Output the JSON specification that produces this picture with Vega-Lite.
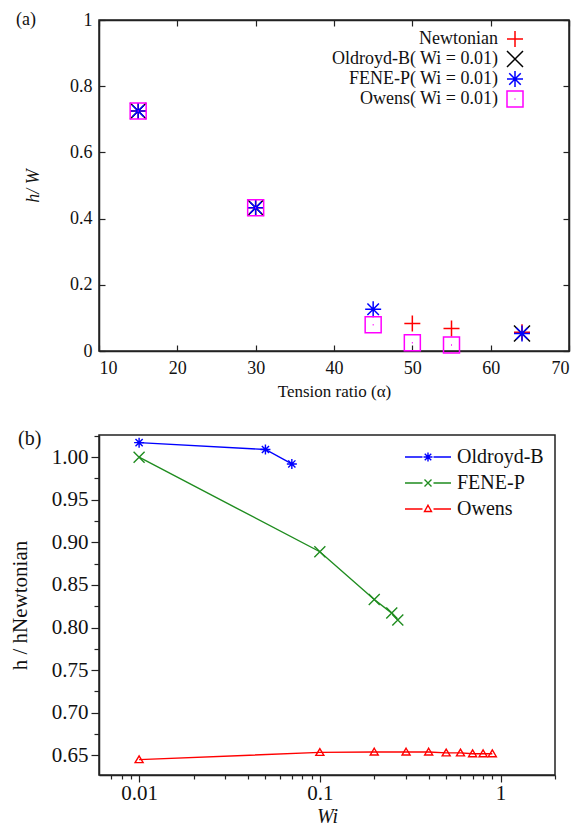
{
  "$schema": "https://vega.github.io/schema/vega-lite/v6.json",
  "padding": {"left": 8, "top": 10, "right": 4, "bottom": 2},
  "background": "white",
  "config": {
    "font": "Liberation Serif",
    "view": {"stroke": "#222", "strokeWidth": 1.5},
    "axis": {"grid": false, "domainColor": "#222", "tickColor": "#222", "labelColor": "#111", "titleColor": "#111", "domainWidth": 1.5, "tickWidth": 1.2, "labelFont": "Liberation Serif", "titleFont": "Liberation Serif", "titleFontWeight": "normal"},
    "legend": {"labelFont": "Liberation Serif", "labelColor": "#111"},
    "title": {"font": "Liberation Serif", "fontWeight": "normal", "color": "#111"},
    "concat": {"spacing": 28}
  },
  "resolve": {"scale": {"color": "independent", "shape": "independent"}, "legend": {"color": "independent", "shape": "independent"}},
  "datasets": {
    "a": [
      {"series": "Newtonian", "alpha": 15, "h": 0.725},
      {"series": "Newtonian", "alpha": 30, "h": 0.433},
      {"series": "Newtonian", "alpha": 50, "h": 0.083},
      {"series": "Newtonian", "alpha": 55, "h": 0.068},
      {"series": "Newtonian", "alpha": 64, "h": 0.057},
      {"series": "Oldroyd-B( Wi = 0.01)", "alpha": 15, "h": 0.725},
      {"series": "Oldroyd-B( Wi = 0.01)", "alpha": 30, "h": 0.433},
      {"series": "Oldroyd-B( Wi = 0.01)", "alpha": 64, "h": 0.053},
      {"series": "FENE-P( Wi = 0.01)", "alpha": 15, "h": 0.725},
      {"series": "FENE-P( Wi = 0.01)", "alpha": 30, "h": 0.433},
      {"series": "FENE-P( Wi = 0.01)", "alpha": 45, "h": 0.126},
      {"series": "FENE-P( Wi = 0.01)", "alpha": 64, "h": 0.053},
      {"series": "Owens( Wi = 0.01)", "alpha": 15, "h": 0.725},
      {"series": "Owens( Wi = 0.01)", "alpha": 30, "h": 0.433},
      {"series": "Owens( Wi = 0.01)", "alpha": 45, "h": 0.079},
      {"series": "Owens( Wi = 0.01)", "alpha": 50, "h": 0.025},
      {"series": "Owens( Wi = 0.01)", "alpha": 55, "h": 0.018}
    ],
    "b": [
      {"series": "Oldroyd-B", "wi": 0.01, "r": 1.017},
      {"series": "Oldroyd-B", "wi": 0.05, "r": 1.009},
      {"series": "Oldroyd-B", "wi": 0.07, "r": 0.992},
      {"series": "FENE-P", "wi": 0.01, "r": 1.0},
      {"series": "FENE-P", "wi": 0.1, "r": 0.889},
      {"series": "FENE-P", "wi": 0.2, "r": 0.833},
      {"series": "FENE-P", "wi": 0.25, "r": 0.817},
      {"series": "FENE-P", "wi": 0.27, "r": 0.809},
      {"series": "Owens", "wi": 0.01, "r": 0.645},
      {"series": "Owens", "wi": 0.1, "r": 0.6535},
      {"series": "Owens", "wi": 0.2, "r": 0.654},
      {"series": "Owens", "wi": 0.3, "r": 0.654},
      {"series": "Owens", "wi": 0.4, "r": 0.654},
      {"series": "Owens", "wi": 0.5, "r": 0.653},
      {"series": "Owens", "wi": 0.6, "r": 0.653},
      {"series": "Owens", "wi": 0.7, "r": 0.652},
      {"series": "Owens", "wi": 0.8, "r": 0.652},
      {"series": "Owens", "wi": 0.9, "r": 0.652}
    ]
  },
  "vconcat": [
    {
      "width": 470,
      "height": 331,
      "title": {"text": "(a)", "anchor": "start", "frame": "group", "dx": -83, "offset": -18, "fontSize": 18, "font": "Liberation Serif"},
      "data": {"name": "a"},
      "layer": [
        {
          "mark": {"type": "point", "filled": false, "strokeWidth": 1.5, "opacity": 1, "size": 256},
          "encoding": {
            "x": {"field": "alpha", "type": "quantitative", "scale": {"domain": [10, 70], "nice": false},
              "axis": {"orient": "bottom", "values": [10, 20, 30, 40, 50, 60, 70], "tickSize": -6, "labelPadding": 14, "labelFontSize": 18, "labelFont": "Liberation Serif", "title": "Tension ratio (α)", "titleFont": "Liberation Serif", "titleFontSize": 17, "titlePadding": 6}},
            "y": {"field": "h", "type": "quantitative", "scale": {"domain": [0, 1], "nice": false},
              "axis": {"orient": "left", "values": [0, 0.2, 0.4, 0.6, 0.8, 1], "format": "~g", "tickSize": -6, "labelPadding": 13, "labelFontSize": 18, "labelFont": "Liberation Serif", "title": "h/ W", "titleFont": "Liberation Serif", "titleFontStyle": "italic", "titleFontSize": 18, "titlePadding": 27}},
            "color": {"field": "series", "type": "nominal",
              "scale": {"domain": ["Newtonian", "Oldroyd-B( Wi = 0.01)", "FENE-P( Wi = 0.01)", "Owens( Wi = 0.01)"], "range": ["#ff0000", "#000000", "#0000ff", "#ff00ff"]},
              "legend": {"title": null, "orient": "none", "legendX": 407, "legendY": 10, "labelAlign": "right", "labelOffset": -26, "labelFontSize": 18, "symbolSize": 256, "symbolStrokeWidth": 1.5, "rowPadding": -3, "padding": 0, "labelLimit": 300}},
            "shape": {"field": "series", "type": "nominal",
              "scale": {"domain": ["Newtonian", "Oldroyd-B( Wi = 0.01)", "FENE-P( Wi = 0.01)", "Owens( Wi = 0.01)"],
                "range": ["M-1,0H1M0,-1V1", "M-1,-1L1,1M-1,1L1,-1", "M-1,0H1M0,-1V1M-0.72,-0.72L0.72,0.72M-0.72,0.72L0.72,-0.72", "M-1,-1H1V1H-1ZM-0.06,0H0.06"]},
              "legend": {"title": null, "orient": "none", "legendX": 407, "legendY": 10, "labelAlign": "right", "labelOffset": -26, "labelFontSize": 18, "symbolSize": 256, "symbolStrokeWidth": 1.5, "rowPadding": -3, "padding": 0, "labelLimit": 300}}
          }
        },
        {
          "transform": [{"filter": "false"}],
          "mark": {"type": "point"},
          "encoding": {
            "x": {"field": "alpha", "type": "quantitative", "axis": {"orient": "top", "values": [10, 20, 30, 40, 50, 60, 70], "tickSize": -6, "labels": false, "title": null}},
            "y": {"field": "h", "type": "quantitative", "axis": {"orient": "right", "values": [0, 0.2, 0.4, 0.6, 0.8, 1], "tickSize": -6, "labels": false, "title": null}}
          }
        }
      ],
      "resolve": {"axis": {"x": "independent", "y": "independent"}}
    },
    {
      "width": 456,
      "height": 340,
      "title": {"text": "(b)", "anchor": "start", "frame": "group", "dx": -81, "offset": -14, "fontSize": 20, "font": "Liberation Serif"},
      "data": {"name": "b"},
      "encoding": {
        "x": {"field": "wi", "type": "quantitative", "scale": {"type": "log", "domain": [0.006, 2], "nice": false},
          "axis": {"values": [0.007, 0.008, 0.009, 0.01, 0.02, 0.03, 0.04, 0.05, 0.06, 0.07, 0.08, 0.09, 0.1, 0.2, 0.3, 0.4, 0.5, 0.6, 0.7, 0.8, 0.9, 1, 2],
            "labelExpr": "datum.value == 0.01 ? '0.01' : datum.value == 0.1 ? '0.1' : datum.value == 1 ? '1' : ''",
            "tickSize": {"condition": {"test": "datum.value == 0.01 || datum.value == 0.1 || datum.value == 1", "value": 7}, "value": 4},
            "labelFontSize": 21, "labelFont": "Liberation Serif", "labelPadding": 0, "title": "Wi", "titleFont": "Liberation Serif", "titleFontStyle": "italic", "titleFontSize": 20, "titlePadding": 3}},
        "y": {"field": "r", "type": "quantitative", "scale": {"domain": [0.627, 1.026], "nice": false, "zero": false},
          "axis": {"values": [0.65, 0.675, 0.7, 0.725, 0.75, 0.775, 0.8, 0.825, 0.85, 0.875, 0.9, 0.925, 0.95, 0.975, 1.0, 1.025],
            "labelExpr": "abs(datum.value*20 - round(datum.value*20)) < 0.001 ? format(datum.value, '.2f') : ''",
            "tickSize": {"condition": {"test": "abs(datum.value*20 - round(datum.value*20)) < 0.001", "value": 8}, "value": 5},
            "labelFontSize": 21, "labelFont": "Liberation Serif", "labelPadding": 3, "title": "h / hNewtonian", "titleFont": "Liberation Serif", "titleFontSize": 21, "titlePadding": 21}}
      },
      "layer": [
        {
          "mark": {"type": "line", "strokeWidth": 1.4},
          "encoding": {
            "color": {"field": "series", "type": "nominal",
              "scale": {"domain": ["Oldroyd-B", "FENE-P", "Owens"], "range": ["#0000ff", "#1f8c1f", "#ff0000"]},
              "legend": null}
          }
        },
        {
          "mark": {"type": "point", "filled": false, "strokeWidth": 1.4, "opacity": 1, "size": 100},
          "encoding": {
            "color": {"field": "series", "type": "nominal",
              "scale": {"domain": ["Oldroyd-B", "FENE-P", "Owens"], "range": ["#0000ff", "#1f8c1f", "#ff0000"]},
              "legend": null},
            "shape": {"field": "series", "type": "nominal",
              "scale": {"domain": ["Oldroyd-B", "FENE-P", "Owens"], "range": ["M-1,0H1M0,-1V1M-0.72,-0.72L0.72,0.72M-0.72,0.72L0.72,-0.72", "M-1.1,-1.1L1.1,1.1M-1.1,1.1L1.1,-1.1", "M0,-0.75L0.8,0.6L-0.8,0.6Z"]},
              "legend": null}
          }
        },
        {
          "transform": [{"filter": "false"}],
          "mark": {"type": "point", "filled": false, "strokeWidth": 1.4, "opacity": 1},
          "encoding": {
            "color": {"field": "series", "type": "nominal",
              "scale": {"domain": ["Oldroyd-B", "FENE-P", "Owens"], "range": ["#0000ff", "#1f8c1f", "#ff0000"]},
              "legend": {"title": null, "orient": "none", "legendX": 319, "legendY": 12, "symbolSize": 100, "symbolStrokeWidth": 1.4, "labelFontSize": 20, "labelFont": "Liberation Serif", "labelOffset": 19, "rowPadding": 6, "padding": 0}},
            "shape": {"field": "series", "type": "nominal",
              "scale": {"domain": ["Oldroyd-B", "FENE-P", "Owens"], "range": ["M-4.6,0H-1.1M1.1,0H4.6M-0.9,0H0.9M0,-0.9V0.9M-0.65,-0.65L0.65,0.65M-0.65,0.65L0.65,-0.65", "M-4.6,0H-1.1M1.1,0H4.6M-0.7,-0.7L0.7,0.7M-0.7,0.7L0.7,-0.7", "M-4.6,0H-1.1M1.1,0H4.6M0,-0.75L0.7,0.5L-0.7,0.5Z"]},
              "legend": {"title": null, "orient": "none", "legendX": 319, "legendY": 12, "symbolSize": 100, "symbolStrokeWidth": 1.4, "labelFontSize": 20, "labelFont": "Liberation Serif", "labelOffset": 19, "rowPadding": 6, "padding": 0}}
          }
        }
      ],
      "resolve": {"scale": {"color": "independent", "shape": "independent"}, "legend": {"color": "independent", "shape": "independent"}}
    }
  ]
}
